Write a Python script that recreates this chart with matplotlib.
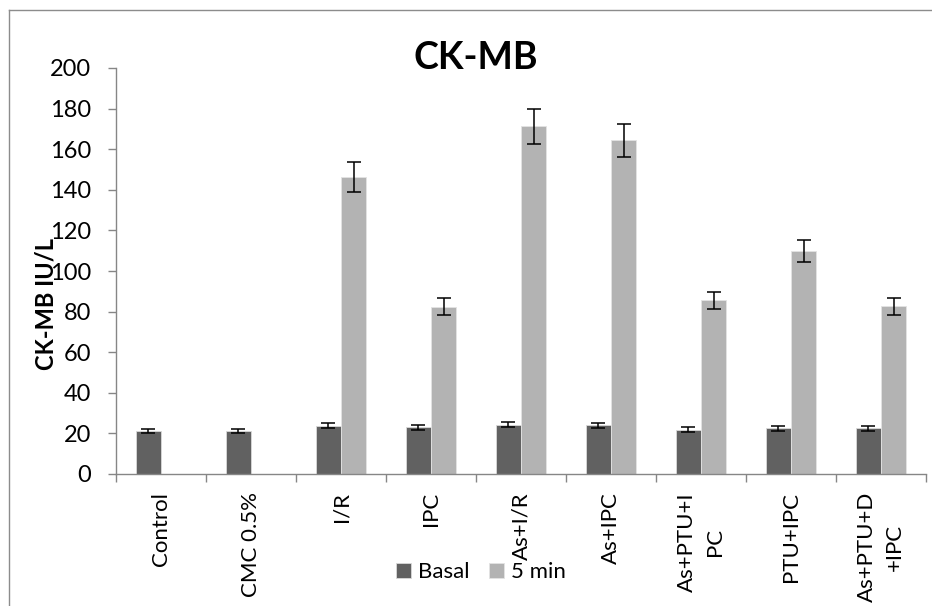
import numpy as np
import matplotlib
matplotlib.use("Agg")
import matplotlib.pyplot as plt
from matplotlib.lines import Line2D

plt.rcParams['font.family'] = ['Lato', 'DejaVu Sans']

categories = ["Control", "CMC 0.5%", "I/R", "IPC", "As+I/R", "As+IPC",
              "As+PTU+I\nPC", "PTU+IPC", "As+PTU+D\n+IPC"]
basal = [21.3, 21.3, 23.8, 23.1, 24.3, 23.9, 21.9, 22.5, 22.5]
basal_err = [1.1, 1.1, 1.3, 1.2, 1.2, 1.2, 1.2, 1.2, 1.2]
min5 = [np.nan, np.nan, 146.2, 82.5, 171.3, 164.4, 85.5, 110.0, 82.7]
min5_err = [np.nan, np.nan, 7.4, 4.2, 8.5, 8.2, 4.3, 5.5, 4.2]
series_names = ["Basal", "5 min"]
yticks = [0, 20, 40, 60, 80, 100, 120, 140, 160, 180, 200]

W, H = 932, 606
fig = plt.figure(figsize=(W / 100, H / 100), dpi=100)
ax = fig.add_axes([116 / W, 1 - 474 / H, (926 - 116) / W, (474 - 68) / H])

x = np.arange(len(categories))
bw = 0.28
ax.bar(x - bw / 2, basal, bw, color="#616161", edgecolor="#d9d9d9", linewidth=0.6,
       label=series_names[0], zorder=2)
ax.bar(x + bw / 2, min5, bw, color="#b3b3b3", edgecolor="#e3e3e3", linewidth=0.6,
       label=series_names[1], zorder=2)
ax.errorbar(x - bw / 2, basal, yerr=basal_err, fmt="none", ecolor="black",
            elinewidth=1.1, capsize=4.8, capthick=1.1, zorder=3)
ax.errorbar(x + bw / 2, min5, yerr=min5_err, fmt="none", ecolor="black",
            elinewidth=1.1, capsize=4.8, capthick=1.1, zorder=3)

ax.set_xlim(-0.5, len(categories) - 0.5)
ax.set_ylim(0, 200)
ax.set_yticks(yticks)
ax.tick_params(axis="y", length=6, width=1, color="#868686", labelsize=17, pad=12)
ax.set_xticks(x)
ax.set_xticklabels(categories, rotation=90, fontsize=16, va="top", ha="center",
                   multialignment="center", linespacing=1.5)
ax.set_xticks(np.arange(-0.5, len(categories), 1), minor=True)
ax.tick_params(axis="x", which="major", length=0, pad=13)
ax.tick_params(axis="x", which="minor", length=6, width=1, color="#868686")

for s in ["top", "right"]:
    ax.spines[s].set_visible(False)
for s in ["left", "bottom"]:
    ax.spines[s].set_color("#868686")
    ax.spines[s].set_linewidth(1)

ax.set_ylabel("CK-MB IU/L", fontsize=17, fontweight="bold", labelpad=0)
ax.yaxis.set_label_coords((58 - 116) / 810, (474 - 304) / 406)

fig.text(476 / W, 1 - 58 / H, "CK-MB", fontsize=27, fontweight="bold",
         ha="center", va="center")

leg = fig.legend(loc="center", bbox_to_anchor=(481 / W, 1 - 572 / H), ncol=2,
                 frameon=False, fontsize=16, handlelength=0.68, handleheight=0.68,
                 handletextpad=0.3, columnspacing=0.9)

# outer chart border
fig.add_artist(Line2D([9 / W, 9 / W], [0, 1 - 10 / H], transform=fig.transFigure,
                      color="#8c8c8c", lw=1))
fig.add_artist(Line2D([9 / W, 1], [1 - 10 / H, 1 - 10 / H], transform=fig.transFigure,
                      color="#8c8c8c", lw=1))

fig.savefig("out.png", dpi=100)
